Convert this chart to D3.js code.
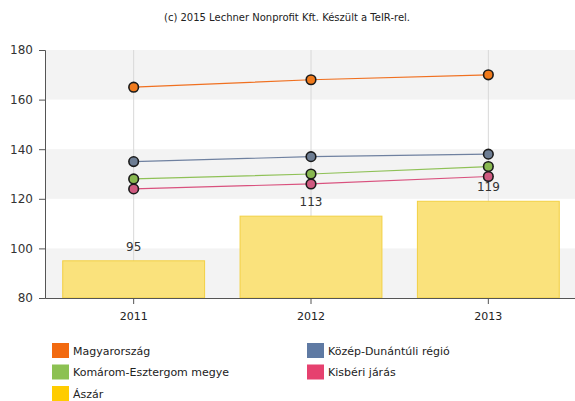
<!DOCTYPE html>
<html><head><meta charset="utf-8">
<script src="https://cdn.jsdelivr.net/npm/d3@7"></script>
<style>body{margin:0;background:#fff}svg{display:block}</style>
</head><body>
<svg id="c" width="575" height="401"></svg>
<script>
const years = ["2011", "2012", "2013"];
const barValues = [95, 113, 119];
const lineNames = ["Magyarország", "Közép-Dunántúli régió", "Komárom-Esztergom megye", "Kisbéri járás"];
const magyarorszag = [165, 168, 170];
const kozepDunantul = [135, 137, 138];
const komarom = [128, 130, 133];
const kisber = [124, 126, 129];
const barName = "Ászár";
const yTicks = [80, 100, 120, 140, 160, 180];
const title = "(c) 2015 Lechner Nonprofit Kft. Készült a TeIR-rel.";

const lineColors = ["#f07020", "#6f81a0", "#8fc157", "#d9517e"];
const markerColors = ["#f07a1c", "#6d7d93", "#88b850", "#cf5a80"];
const swatchColors = ["#f26a10", "#5f7aa3", "#8cc152", "#e6416f"];
const barColor = "#fae27c", barStroke = "#f2d043", barSwatch = "#ffcc00";
const series = [magyarorszag, kozepDunantul, komarom, kisber];

const svg = d3.select("#c");
const pLeft = 45, pRight = 577, pTop = 50, pBottom = 298;
const x = d3.scaleBand().domain(years).range([pLeft, pRight]).paddingInner(0.2).paddingOuter(0.1);
const xc = d => x(d) + x.bandwidth() / 2;
const y = d3.scaleLinear().domain([80, 180]).range([pBottom, pTop]);

// bands
for (let i = 0; i < yTicks.length - 1; i++) {
  if (i % 2 === 0) {
    svg.append("rect").attr("x", pLeft).attr("width", 575 - pLeft)
      .attr("y", y(yTicks[i + 1])).attr("height", y(yTicks[i]) - y(yTicks[i + 1]))
      .attr("fill", "#f3f3f3");
  }
}
// vertical grid
svg.selectAll(".vg").data(years).join("line")
  .attr("x1", xc).attr("x2", xc).attr("y1", pTop).attr("y2", pBottom)
  .attr("stroke", "#d8d8d8").attr("stroke-width", 1);

// bars
svg.selectAll(".bar").data(barValues).join("rect")
  .attr("x", (d, i) => x(years[i])).attr("width", x.bandwidth())
  .attr("y", d => y(d)).attr("height", d => y(80) - y(d))
  .attr("fill", barColor).attr("stroke", barStroke).attr("stroke-width", 1);
svg.selectAll(".bl").data(barValues).join("text")
  .attr("x", (d, i) => xc(years[i])).attr("y", d => y(d) - 10)
  .attr("text-anchor", "middle").attr("font-family", "DejaVu Sans").attr("font-size", 12)
  .attr("fill", "#333").text(d => d);

// axes
const ya = svg.append("g").attr("transform", `translate(${pLeft},0)`)
  .call(d3.axisLeft(y).tickValues(yTicks).tickSize(6).tickPadding(6));
ya.select(".domain").attr("stroke", "#555");
ya.selectAll(".tick line").attr("stroke", "#555");
ya.selectAll("text").attr("font-family", "DejaVu Sans").attr("font-size", 12).attr("fill", "#333");
const xa = svg.append("g").attr("transform", `translate(0,${pBottom})`)
  .call(d3.axisBottom(x).tickSize(6).tickSizeOuter(0).tickPadding(8));
xa.select(".domain").attr("stroke", "#555");
xa.selectAll(".tick line").attr("stroke", "#555");
xa.selectAll("text").attr("font-family", "DejaVu Sans").attr("font-size", 11).attr("fill", "#222");

// lines
const line = d3.line().x((d, i) => xc(years[i])).y(d => y(d));
series.forEach((s, k) => {
  svg.append("path").datum(s).attr("d", line).attr("fill", "none")
    .attr("stroke", lineColors[k]).attr("stroke-width", 1.2);
});
series.forEach((s, k) => {
  svg.selectAll(null).data(s).join("circle")
    .attr("cx", (d, i) => xc(years[i])).attr("cy", d => y(d)).attr("r", 4.8)
    .attr("fill", markerColors[k]).attr("stroke", "#1a1a1a").attr("stroke-width", 1.6);
});

// title
svg.append("text").attr("x", 287).attr("y", 21).attr("text-anchor", "middle")
  .attr("font-family", "DejaVu Sans").attr("font-size", 10).attr("fill", "#222").text(title);

// legend
const legend = [
  {name: lineNames[0], color: swatchColors[0], col: 0, row: 0},
  {name: lineNames[1], color: swatchColors[1], col: 1, row: 0},
  {name: lineNames[2], color: swatchColors[2], col: 0, row: 1},
  {name: lineNames[3], color: swatchColors[3], col: 1, row: 1},
  {name: barName, color: barSwatch, col: 0, row: 2}
];
const lg = svg.selectAll(".lg").data(legend).join("g")
  .attr("transform", d => `translate(${d.col ? 307 : 52},${343 + d.row * 21.5})`);
lg.append("rect").attr("width", 17).attr("height", 15).attr("fill", d => d.color);
lg.append("text").attr("x", 21).attr("y", 11.5).attr("font-family", "DejaVu Sans")
  .attr("font-size", 11).attr("fill", "#222").text(d => d.name);
</script>
</body></html>
